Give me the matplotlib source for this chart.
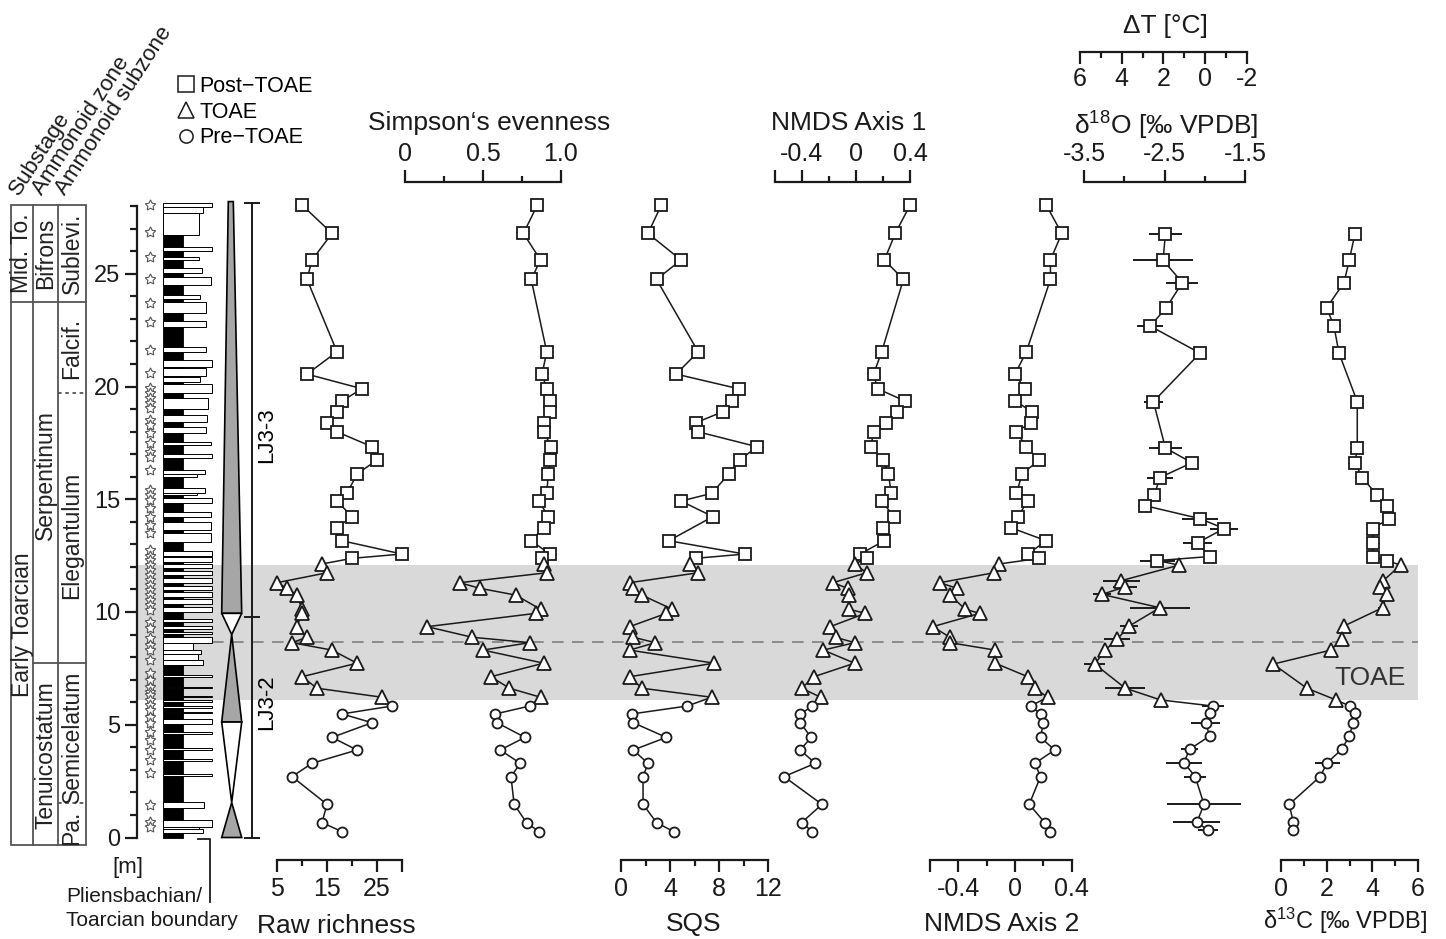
import numpy as np
import matplotlib
matplotlib.use("Agg")
import matplotlib.pyplot as plt
from matplotlib.lines import Line2D
from matplotlib.patches import Polygon, Rectangle

plt.rcParams['font.family'] = ['Liberation Sans', 'DejaVu Sans']
plt.rcParams['mathtext.fontset'] = 'custom'
plt.rcParams['mathtext.rm'] = 'Liberation Sans'
plt.rcParams['mathtext.it'] = 'Liberation Sans:italic'
plt.rcParams['mathtext.bf'] = 'Liberation Sans:bold'

# ---------------- data (depth in m, listed from top of section down) ----------------
div_depth = [28.05, 26.79, 25.61, 24.75, 21.54, 20.55, 19.90, 19.36, 18.88, 18.39, 17.99,
             17.33, 16.74, 16.12, 15.26, 14.92, 14.23, 13.74, 13.16, 12.57, 12.38,
             12.13, 11.74, 11.30, 11.05, 10.75, 10.12, 9.94, 9.35, 8.88, 8.64, 8.31,
             7.73, 7.13, 6.62, 6.22,
             5.83, 5.48, 5.09, 4.44, 3.88, 3.29, 2.70, 1.47, 0.66, 0.26]
div_phase = ['post'] * 21 + ['toae'] * 15 + ['pre'] * 10

raw_richness = [10, 16, 12, 11, 17, 11, 22, 18, 17, 15, 17, 24, 25, 21, 19, 17, 20, 17, 18, 30, 20,
                14, 15, 5, 7, 9, 10, 10, 9, 11, 8, 16, 21, 10, 13, 26,
                28, 18, 24, 16, 21, 12, 8, 15, 14, 18]
simpson = [0.85, 0.76, 0.87, 0.81, 0.91, 0.88, 0.91, 0.93, 0.93, 0.89, 0.89, 0.94, 0.93, 0.92,
           0.91, 0.86, 0.92, 0.89, 0.81, 0.93, 0.88,
           0.89, 0.91, 0.35, 0.48, 0.71, 0.87, 0.84, 0.14, 0.43, 0.80, 0.50, 0.89, 0.55, 0.67, 0.87,
           0.80, 0.58, 0.59, 0.77, 0.61, 0.74, 0.68, 0.70, 0.78, 0.86]
sqs = [3.3, 2.2, 4.9, 2.9, 6.3, 4.5, 9.6, 9.1, 8.3, 6.1, 6.3, 11.1, 9.7, 8.8, 7.4, 4.9, 7.5,
       np.nan, 3.9, 10.1, 6.1,
       5.6, 6.3, 0.7, 1.0, 1.7, 4.2, 3.7, 0.7, 1.0, 2.8, 0.7, 7.6, 0.7, 1.7, 7.4,
       5.4, 0.9, 1.0, 3.7, 1.0, 2.2, 1.8, 1.8, 2.9, 4.3]
nmds1 = [0.40, 0.29, 0.21, 0.35, 0.19, 0.13, 0.16, 0.36, 0.30, 0.22, 0.13, 0.11, 0.20, 0.24,
         0.26, 0.19, 0.28, 0.20, 0.21, 0.03, 0.08,
         -0.01, 0.08, -0.17, -0.06, -0.05, -0.05, 0.07, -0.19, -0.15, -0.01, -0.24, -0.01,
         -0.31, -0.40, -0.26,
         -0.32, -0.41, -0.41, -0.33, -0.41, -0.30, -0.53, -0.25, -0.40, -0.32]
nmds2 = [0.22, 0.33, 0.25, 0.25, 0.08, 0.00, 0.07, 0.00, 0.12, 0.11, 0.01, 0.08, 0.17, 0.05,
         0.01, 0.09, 0.02, -0.03, 0.22, 0.09, 0.17,
         -0.11, -0.15, -0.53, -0.41, -0.46, -0.35, -0.25, -0.58, -0.46, -0.46, -0.14, -0.14,
         0.09, 0.14, 0.23,
         0.11, 0.18, 0.20, 0.18, 0.28, 0.14, 0.18, 0.10, 0.21, 0.25]

geo_depth = [26.78, 25.60, 24.61, 23.49, 22.68, 21.48, 19.33, 17.27, 16.62, 15.96, 15.17,
             14.72, 14.14, 13.70, 13.07, 12.46, 12.28,
             12.08, 11.39, 11.12, 10.78, 10.19, 9.38, 8.80, 8.31, 7.69, 6.62, 6.10,
             5.83, 5.53, 5.09, 4.50, 3.91, 3.32, 2.70, 1.47, 0.67, 0.33]
geo_phase = ['post'] * 17 + ['toae'] * 11 + ['pre'] * 10
d18o = [-2.49, -2.52, -2.28, -2.48, -2.68, -2.06, -2.64, -2.49, -2.16, -2.56, -2.63, -2.75,
        -2.06, -1.76, -2.09, -1.94, -2.59,
        -2.32, -3.04, -2.99, -3.28, -2.56, -2.94, -3.09, -3.24, -3.37, -2.99, -2.55,
        -1.90, -1.94, -1.99, -1.94, -2.19, -2.26, -2.12, -2.01, -2.10, -1.96]
d18o_err = [0.21, 0.37, 0.20, 0.04, 0.16, 0.04, 0.12, 0.21, 0.04, 0.16, 0.04, 0.08, 0.22,
            0.17, 0.18, 0.04, 0.22,
            0.04, 0.23, 0.15, 0.11, 0.37, 0.11, 0.16, 0.04, 0.13, 0.25, 0.04,
            0.14, 0.04, 0.18, 0.04, 0.11, 0.22, 0.14, 0.46, 0.29, 0.13]
d13c = [3.24, 2.99, 2.76, 2.00, 2.32, 2.54, 3.34, 3.34, 3.24, 3.56, 4.22, 4.63, 4.73, 4.02,
        4.02, 4.02, 4.63,
        5.24, 4.48, 4.35, 4.63, 4.45, 2.76, 2.66, 2.18, -0.34, 1.13, 2.41,
        3.02, 3.24, 3.17, 2.99, 2.66, 2.03, 1.71, 0.36, 0.54, 0.54]
d13c_err = [0.0] * 17 + [0.0, 0.0, 0.0, 0.0, 0.2, 0.0, 0.0, 0.0, 0.0, 0.0, 0.0] + \
           [0.0, 0.0, 0.0, 0.0, 0.0, 0.55, 0.0, 0.0, 0.2, 0.0]

# lithology: limestone beds (base, top, relative width); marl below 26.72 m
lst_base = [27.95, 27.71, 26.72, 26.01, 25.61, 25.02, 24.50, 23.87, 23.24, 22.62, 21.55,
            20.88, 20.47, 20.22, 19.70, 18.99, 18.44, 17.92, 17.41, 16.81, 16.12, 16.00,
            15.29, 15.19, 14.82, 14.23, 13.64, 13.12,
            12.50, 12.22, 11.94, 11.64, 11.30, 10.97, 10.67, 10.37, 10.02,
            9.55, 9.26, 9.02, 8.64, 8.31, 8.14, 7.87, 7.65,
            7.12, 6.61, 6.21, 6.03, 5.76, 5.50, 5.02, 4.58, 3.87, 3.40, 2.73,
            1.29, 0.48, 0.36, 0.21]
lst_top = [28.12, 27.95, 27.71, 26.20, 25.76, 25.24, 24.87, 24.06, 23.73, 22.92, 21.77,
           21.17, 20.81, 20.41, 20.11, 19.48, 18.74, 18.22, 17.56, 17.01, 16.30, 16.12,
           15.48, 15.29, 15.04, 14.45, 14.00, 13.52,
           12.70, 12.44, 12.14, 11.84, 11.50, 11.17, 10.87, 10.57, 10.24,
           9.68, 9.36, 9.12, 8.91, 8.64, 8.31, 8.14, 7.87,
           7.20, 6.69, 6.29, 6.11, 5.84, 5.58, 5.24, 4.66, 3.95, 3.48, 2.81,
           1.59, 0.78, 0.48, 0.36]
lst_width = [1.00, 0.83, 0.74, 1.00, 0.74, 0.81, 0.99, 0.76, 0.88, 0.88, 0.88,
             1.00, 0.88, 0.76, 1.00, 0.93, 0.91, 0.88, 0.98, 1.00, 0.86, 0.69,
             0.86, 0.69, 1.00, 0.99, 0.99, 0.99,
             1.0, 1.0, 1.0, 1.0, 1.0, 1.0, 1.0, 1.0, 1.0,
             1.0, 1.0, 1.0, 1.00, 0.61, 0.79, 0.72, 0.83,
             1.0, 1.0, 1.0, 1.0, 1.0, 1.0, 1.0, 1.0, 1.0, 1.0, 1.0,
             0.84, 1.00, 0.74, 0.83]
marl_top = 26.72

ammonite_depth = [28.05, 26.87, 25.76, 24.75, 23.69, 22.87, 21.62, 20.61, 19.92, 19.70, 19.48,
                  19.25, 19.03, 18.50, 18.29, 17.92, 17.48, 17.11, 16.89, 16.30, 15.41, 15.19,
                  14.97, 14.60, 14.23, 13.86, 13.49, 12.75, 12.50, 12.30, 12.08, 11.86, 11.64,
                  11.42, 11.20, 10.98, 10.75, 10.53, 10.31, 10.09, 9.57, 9.28, 8.83, 8.54,
                  8.31, 7.87, 7.28, 6.98, 6.69, 6.46, 6.32, 6.10, 5.87, 5.65, 5.36, 5.06,
                  4.69, 4.32, 3.88, 3.44, 2.84, 1.44, 0.70, 0.48]

toae_base, toae_top = 6.10, 12.10
dashed_level = 8.67

# ---------------- layout helpers (pixel based) ----------------
W, H = 1446, 939
Y0_PX, PX_PER_M = 837.5, 22.55
Y_TOP, Y_BOT = 181.7, 860.0
INK = '#1a1a1a'


def depth_at(ypx):
    return (Y0_PX - ypx) / PX_PER_M


YLIM = (depth_at(Y_BOT), depth_at(Y_TOP))
fig = plt.figure(figsize=(W / 100, H / 100), dpi=100)


def box(x0, x1, y0, y1):
    return [x0 / W, 1 - y1 / H, (x1 - x0) / W, (y1 - y0) / H]


def ftext(x, y, s, **kw):
    kw.setdefault('color', INK)
    return fig.text(x / W, 1 - y / H, s, **kw)


# TOAE band behind everything
ax_bg = fig.add_axes(box(138, 1418, Y_TOP, Y_BOT), zorder=0)
ax_bg.set_xlim(138, 1418)
ax_bg.set_ylim(*YLIM)
ax_bg.axis('off')
ax_bg.axhspan(toae_base, toae_top, color='#d9d9d9', lw=0)
ax_bg.plot([212, 1418], [dashed_level, dashed_level], color='#808080', lw=1.2, ls=(0, (7, 5)))
ax_bg.text(1370, depth_at(678), 'TOAE', fontsize=19, color='#333333', ha='center', va='center')


def panel(px0, px1, v_a, px_a, v_b, px_b):
    ax = fig.add_axes(box(px0, px1, Y_TOP, Y_BOT), zorder=2)
    k = (v_b - v_a) / (px_b - px_a)
    ax.set_xlim(v_a + (px0 - px_a) * k, v_a + (px1 - px_a) * k)
    ax.set_ylim(*YLIM)
    ax.patch.set_visible(False)
    for s in ax.spines.values():
        s.set_visible(False)
    ax.set_yticks([])
    return ax


def scale_bar(ax, side, lo, hi, major, labels, minor):
    sp = ax.spines[side]
    sp.set_visible(True)
    sp.set_bounds(lo, hi)
    sp.set_linewidth(1.6)
    sp.set_color(INK)
    if side == 'top':
        ax.xaxis.tick_top()
        pad = 2.5
    else:
        ax.xaxis.tick_bottom()
        pad = 4
    ax.set_xticks(major)
    ax.set_xticklabels(labels)
    ax.set_xticks(minor, minor=True)
    ax.tick_params(axis='x', which='major', direction='out', length=8.5, width=1.6,
                   color=INK, labelsize=18, labelcolor=INK, pad=pad)
    ax.tick_params(axis='x', which='minor', direction='out', length=4.5, width=1.6, color=INK)


MARKERS = {'post': ('s', 8.3), 'toae': ('^', 9.5), 'pre': ('o', 7.2)}


def draw_series(ax, x, y, phase, xerr=None):
    x = np.asarray(x, float)
    y = np.asarray(y, float)
    phase = np.asarray(phase)
    ok = ~np.isnan(x)
    if xerr is not None:
        e = np.asarray(xerr, float)[ok]
        ax.errorbar(x[ok], y[ok], xerr=e, fmt='none', ecolor=INK, elinewidth=1.4,
                    capsize=0, zorder=2)
    ax.plot(x[ok], y[ok], color=INK, lw=1.1, zorder=3)
    for ph, (mk, ms) in MARKERS.items():
        sel = ok & (phase == ph)
        ax.plot(x[sel], y[sel], ls='none', marker=mk, ms=ms, mfc='white', mec=INK,
                mew=1.3, zorder=4, clip_on=False)


# ---------------- data panels ----------------
ax = panel(262, 415, 5, 277, 30, 402)
draw_series(ax, raw_richness, div_depth, div_phase)
scale_bar(ax, 'bottom', 5, 30, [5, 15, 25, 30], ['5', '15', '25', ''], [10, 20])
ftext(336, 926, 'Raw richness', fontsize=19, ha='center', va='center')

ax = panel(400, 575, 0, 405.4, 1.0, 560.7)
draw_series(ax, simpson, div_depth, div_phase)
scale_bar(ax, 'top', 0, 1.0, [0, 0.5, 1.0], ['0', '0.5', '1.0'], [0.25, 0.75])
ftext(489, 123, 'Simpson\u2018s evenness', fontsize=19, ha='center', va='center')

ax = panel(605, 785, 0, 621, 12, 768)
draw_series(ax, sqs, div_depth, div_phase)
scale_bar(ax, 'bottom', 0, 12, [0, 4, 8, 12], ['0', '4', '8', '12'], [2, 6, 10])
ftext(694, 924, 'SQS', fontsize=19, ha='center', va='center')

ax = panel(770, 925, -0.6, 774.5, 0.4, 910.2)
draw_series(ax, nmds1, div_depth, div_phase)
scale_bar(ax, 'top', -0.6, 0.4, [-0.6, -0.4, 0, 0.4], ['', '-0.4', '0', '0.4'], [-0.2, 0.2])
ftext(849, 123, 'NMDS Axis 1', fontsize=19, ha='center', va='center')

ax = panel(925, 1085, -0.6, 930, 0.4, 1071.7)
draw_series(ax, nmds2, div_depth, div_phase)
scale_bar(ax, 'bottom', -0.6, 0.4, [-0.6, -0.4, 0, 0.4], ['', '-0.4', '0', '0.4'], [-0.2, 0.2])
ftext(1002, 924, 'NMDS Axis 2', fontsize=19, ha='center', va='center')

ax = panel(1075, 1265, -3.5, 1084.3, -1.5, 1245)
draw_series(ax, d18o, geo_depth, geo_phase, xerr=d18o_err)
scale_bar(ax, 'top', -3.5, -1.5, [-3.5, -2.5, -1.5], ['-3.5', '-2.5', '-1.5'], [-3.0, -2.0])
ftext(1166, 126, '\u03b4$^{18}$O [\u2030 VPDB]', fontsize=19, ha='center', va='center')

# temperature scale (delta T) drawn as its own small axis
ax_t = fig.add_axes(box(1075, 1265, 30, 52), zorder=2)
k = (-2 - 6) / (1246.7 - 1080)
ax_t.set_xlim(6 + (1075 - 1080) * k, 6 + (1265 - 1080) * k)
ax_t.patch.set_visible(False)
for s in ax_t.spines.values():
    s.set_visible(False)
ax_t.set_yticks([])
scale_bar(ax_t, 'bottom', -2, 6, [6, 4, 2, 0, -2], ['6', '4', '2', '0', '-2'], [5, 3, 1, -1])
ax_t.tick_params(axis='x', which='major', pad=2)
ftext(1165, 26, '\u0394T [\u00b0C]', fontsize=19, ha='center', va='center')

ax = panel(1265, 1430, 0, 1281, 6, 1418)
draw_series(ax, d13c, geo_depth, geo_phase, xerr=d13c_err)
scale_bar(ax, 'bottom', 0, 6, [0, 2, 4, 6], ['0', '2', '4', '6'], [1, 3, 5])
ftext(1345, 921, '\u03b4$^{13}$C [\u2030 VPDB]', fontsize=17, ha='center', va='center')

# ---------------- stratigraphic column (x in pixels) ----------------
sa = fig.add_axes(box(0, 290, Y_TOP, Y_BOT), zorder=1)
sa.set_xlim(0, 290)
sa.set_ylim(*YLIM)
sa.patch.set_visible(False)
for s in ['top', 'right', 'bottom']:
    sa.spines[s].set_visible(False)
sa.set_xticks([])
sa.spines['left'].set_position(('data', 136.7))
sa.spines['left'].set_bounds(0, 28)
sa.spines['left'].set_linewidth(1.6)
sa.spines['left'].set_color(INK)
sa.set_yticks([0, 5, 10, 15, 20, 25])
sa.set_yticks(range(0, 29), minor=True)
sa.tick_params(axis='y', which='major', direction='out', length=9, width=1.6, color=INK,
               labelsize=17, labelcolor=INK, pad=3)
sa.tick_params(axis='y', which='minor', direction='out', length=4.8, width=1.6, color=INK)

# table of biostratigraphy
TC = '#555555'
tx = [11, 33.3, 58.3, 86]
t_top, t_bot = 28.03, -0.33
sa.add_patch(Rectangle((tx[0], t_bot), tx[3] - tx[0], t_top - t_bot, fill=False, ec=TC, lw=1.3))
for xv in tx[1:3]:
    sa.plot([xv, xv], [t_bot, t_top], color=TC, lw=1.3)
sa.plot([tx[0], tx[3]], [23.76, 23.76], color=TC, lw=1.3)
sa.plot([tx[1], tx[3]], [7.72, 7.72], color=TC, lw=1.3)
sa.plot([tx[2], tx[3]], [19.72, 19.72], color=TC, lw=1.3, ls=(0, (2, 2)))
sa.plot([tx[2], tx[3]], [1.52, 1.52], color=TC, lw=1.3, ls=(0, (2, 2)))
for xc, d, s in [(22, 25.9, 'Mid. To.'), (45.7, 25.9, 'Bifrons'), (72, 25.9, 'Sublevi.'),
                 (72, 21.7, 'Falcif.'), (72, 13.4, 'Elegantulum'), (45.7, 16.07, 'Serpentinum'),
                 (22, 9.45, 'Early Toarcian'), (45.7, 3.66, 'Tenuicostatum'),
                 (72, 4.46, 'Semicelatum'), (72, 0.42, 'Pa.')]:
    sa.text(xc, d, s, rotation=90, ha='center', va='center', fontsize=16.5, color='#222222')

# ammonite levels
sa.plot(np.full(len(ammonite_depth), 150.0), ammonite_depth, ls='none',
        marker=(5, 1, 0), ms=8, mfc='white', mec='#555555', mew=0.8)

# lithology
COL_X, COL_W = 163.0, 48.7
sa.add_patch(Rectangle((COL_X, 0), 0.41 * COL_W, marl_top, fc='black', ec='black', lw=0.6))
for b, t, w in zip(lst_base, lst_top, lst_width):
    sa.add_patch(Rectangle((COL_X, b), w * COL_W, t - b, fc='white', ec='black', lw=0.7))

# sequence trends
SX0, SX1, SXC = 221.7, 241.7, 231.7
gray = '#a6a6a6'
sa.add_patch(Polygon([(228.3, 28.2), (233.3, 28.2), (SX1, 9.94), (SX0, 9.94)],
                     closed=True, fc=gray, ec='black', lw=1.2))
sa.add_patch(Polygon([(SX0, 9.94), (SX1, 9.94), (SXC, 9.0)], closed=True, fc='white', ec='black', lw=1.2))
sa.add_patch(Polygon([(SXC, 9.0), (SX1, 5.12), (SX0, 5.12)], closed=True, fc=gray, ec='black', lw=1.2))
sa.add_patch(Polygon([(SX0, 5.12), (SX1, 5.12), (SXC, 1.55)], closed=True, fc='white', ec='black', lw=1.2))
sa.add_patch(Polygon([(SXC, 1.55), (SX1, 0.0), (SX0, 0.0)], closed=True, fc=gray, ec='black', lw=1.2))

# sequence bracket
sa.plot([251.7, 251.7], [0, 28.12], color=INK, lw=1.4)
for d in [28.12, 9.8, 0]:
    sa.plot([245, 258.5], [d, d], color=INK, lw=1.4)
sa.text(267, 17.85, 'LJ3-3', rotation=90, ha='center', va='center', fontsize=16)
sa.text(267, 6.0, 'LJ3-2', rotation=90, ha='center', va='center', fontsize=16)

# Pliensbachian/Toarcian boundary pointer
sa.plot([198, 210, 210], [depth_at(839), depth_at(839), depth_at(902)], color=INK, lw=1.3,
        clip_on=False)
ftext(128, 867, '[m]', fontsize=16, ha='center', va='center')
ftext(66, 897, 'Pliensbachian/', fontsize=15, ha='left', va='center')
ftext(66, 921, 'Toarcian boundary', fontsize=15, ha='left', va='center')

# column headers
for x0, s in [(19, 'Substage'), (41.7, 'Ammonoid zone'), (65, 'Ammonoid subzone')]:
    ftext(x0, 196, s, fontsize=16, rotation=57, ha='left', va='baseline',
          rotation_mode='anchor')

# legend
handles = [Line2D([], [], ls='none', marker='s', ms=12, mfc='white', mec=INK, mew=1.1),
           Line2D([], [], ls='none', marker='^', ms=12, mfc='white', mec=INK, mew=1.1),
           Line2D([], [], ls='none', marker='o', ms=9.5, mfc='white', mec=INK, mew=1.1)]
fig.legend(handles, ['Post\u2212TOAE', 'TOAE', 'Pre\u2212TOAE'], loc='upper left',
           bbox_to_anchor=(177 / W, 1 - 76 / H), frameon=False, fontsize=15.5,
           handlelength=0.8, handletextpad=0.25, labelspacing=0.22, borderpad=0,
           borderaxespad=0)

fig.savefig('out.png', dpi=100)
